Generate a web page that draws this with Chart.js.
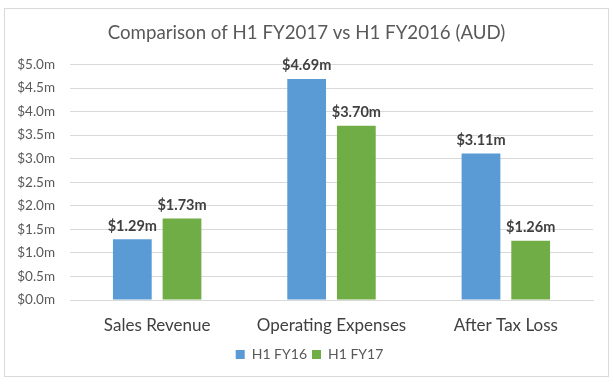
<!DOCTYPE html>
<html><head><meta charset="utf-8">
<script src="https://cdn.jsdelivr.net/npm/chart.js@4/dist/chart.umd.min.js"></script>
<style>
html,body{margin:0;padding:0;background:#fff;}
#box{position:absolute;left:4px;top:8px;width:603px;height:367px;border:1px solid #d9d9d9;background:#fff;}
canvas{display:block;}
</style></head>
<body>
<div id="box"><canvas id="c" width="603" height="367"></canvas></div>
<script>
const categories = ["Sales Revenue", "Operating Expenses", "After Tax Loss"];
const fy16 = [1.29, 4.69, 3.11];
const fy17 = [1.73, 3.70, 1.26];
const seriesNames = ["H1 FY16", "H1 FY17"];
const FONT = "Lato, 'Open Sans', sans-serif";

const labelPlugin = {
  id: 'dataLabels',
  afterLayout(chart) {
    // center title and legend on the full frame
    if (chart.titleBlock) { chart.titleBlock.left = 0; chart.titleBlock.right = chart.width; }
    if (chart.legend) { chart.legend.left = 3; chart.legend.right = chart.width + 3; }
  },
  afterDatasetsDraw(chart) {
    const ctx = chart.ctx;
    ctx.save();
    ctx.font = "bold 14.5px " + FONT;
    ctx.fillStyle = "#404040";
    ctx.textAlign = "center";
    ctx.textBaseline = "bottom";
    chart.data.datasets.forEach((ds, i) => {
      chart.getDatasetMeta(i).data.forEach((el, j) => {
        ctx.fillText("$" + ds.data[j].toFixed(2) + "m", el.x, el.y - 6);
      });
    });
    ctx.restore();
  }
};

new Chart(document.getElementById('c'), {
  type: 'bar',
  data: {
    labels: categories,
    datasets: [
      {label: seriesNames[0], data: fy16, backgroundColor: '#5B9BD5'},
      {label: seriesNames[1], data: fy17, backgroundColor: '#70AD47'}
    ]
  },
  options: {
    responsive: false,
    animation: false,
    devicePixelRatio: 1,
    layout: {padding: {left: 0, right: 15, top: 9, bottom: 4.5}},
    datasets: {bar: {categoryPercentage: 0.57, barPercentage: 0.78}},
    plugins: {
      title: {display: true, text: "Comparison of H1 FY2017 vs H1 FY2016 (AUD)", color: '#595959',
        font: {family: FONT, size: 18.7, weight: 'normal'}, padding: {top: 4, bottom: 20}},
      legend: {position: 'bottom', labels: {boxWidth: 9, boxHeight: 9, color: '#595959',
        font: {family: FONT, size: 14}, padding: 5}},
      tooltip: {enabled: false}
    },
    scales: {
      x: {grid: {display: false}, border: {color: '#d9d9d9'},
        ticks: {color: '#404040', font: {family: FONT, size: 17}, padding: 7}},
      y: {min: 0, max: 5, border: {display: false},
        grid: {color: '#d9d9d9', drawTicks: false},
        afterFit: s => { s.width = 65; },
        ticks: {stepSize: 0.5, color: '#595959', font: {family: FONT, size: 13.5}, padding: 15,
          callback: v => "$" + v.toFixed(1) + "m"}}
    }
  },
  plugins: [labelPlugin]
});
</script>
</body></html>
